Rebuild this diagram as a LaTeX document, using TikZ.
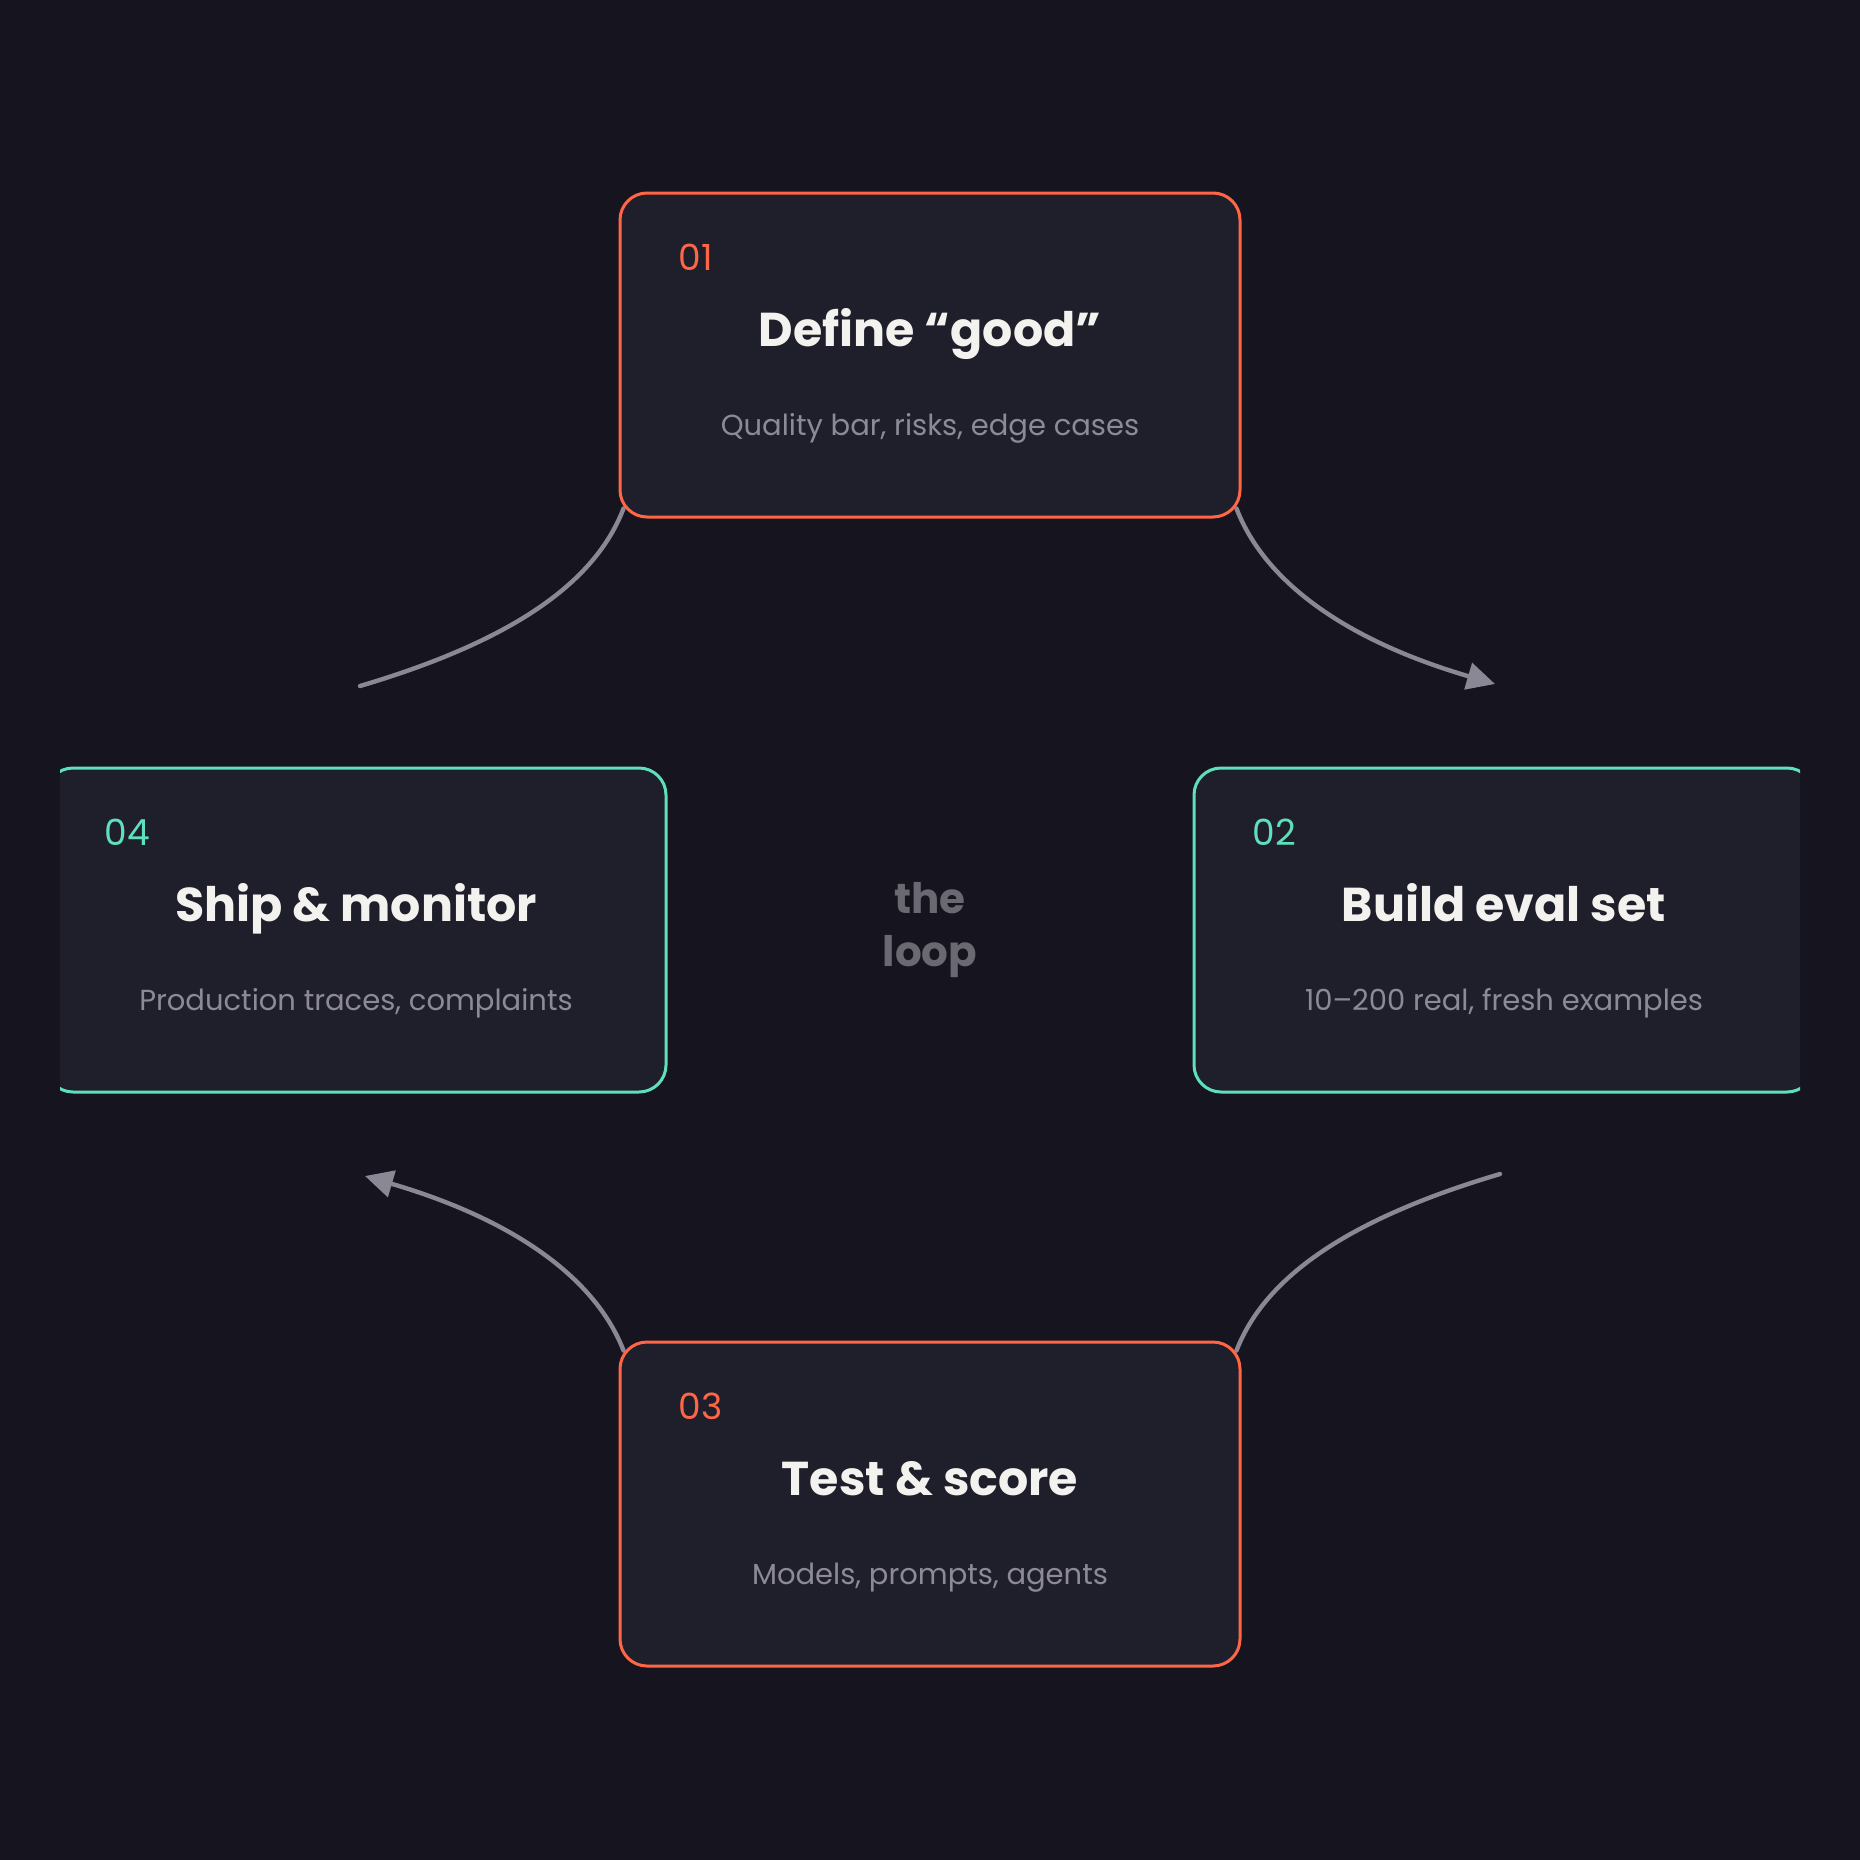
\documentclass[tikz,border=0pt]{standalone}
\usepackage{fontspec}
\setmainfont{Poppins}
\usetikzlibrary{arrows.meta}
\definecolor{bgc}{HTML}{16151F}
\definecolor{cardc}{HTML}{1F1F2B}
\definecolor{orangec}{HTML}{FF6645}
\definecolor{tealc}{HTML}{5EE0BC}
\definecolor{titlec}{HTML}{F4F2EE}
\definecolor{subc}{HTML}{8C8A96}
\definecolor{connc}{HTML}{8A8894}
\definecolor{loopc}{HTML}{6A6972}
\pgfdeclarelayer{bgl}
\pgfdeclarelayer{back}
\pgfsetlayers{bgl,back,main}
\tikzset{
  card/.style={draw=#1, line width=3pt, fill=cardc, rounded corners=27pt,
    minimum width=620pt, minimum height=324pt, inner sep=0pt},
  num/.style={text=#1, anchor=base west, font=\fontsize{36}{40}\selectfont, inner sep=0pt},
  ttl/.style={text=titlec, anchor=base, font=\bfseries\fontsize{47.5}{52}\selectfont, inner sep=0pt},
  sub/.style={text=subc, anchor=base, font=\fontsize{29}{32}\selectfont, inner sep=0pt},
  conn/.style={draw=connc, line width=4.4pt, line cap=round},
  tipped/.style={-{Triangle[length=28pt,width=27pt]}},
  looptxt/.style={text=loopc, font=\bfseries\fontsize{42}{53}\selectfont, anchor=base, inner sep=0pt}
}
\begin{document}
\begin{tikzpicture}[x=1pt,y=-1pt]
\begin{pgfonlayer}{bgl}
\fill[bgc] (0,0) rectangle (1860,1860);
\end{pgfonlayer}
\useasboundingbox (0,0) rectangle (1860,1860);
\begin{scope}
\clip (60,60) rectangle (1800,1800);
\node[card=orangec] (A) at (930,355) {};
\node[card=tealc] (B) at (1504,930) {};
\node[card=orangec] (C) at (930,1504) {};
\node[card=tealc] (D) at (356,930) {};
\end{scope}
% texts
\node[num=orangec] (An) at ([shift={(60,79)}]A.north west) {01};
\node[ttl] (At) at ([shift={(0,155)}]A.north) {Define “good”};
\node[sub] (As) at ([shift={(0,244)}]A.north) {Quality bar, risks, edge cases};
\node[num=tealc] (Bn) at ([shift={(60,79)}]B.north west) {02};
\node[ttl] (Bt) at ([shift={(0,155)}]B.north) {Build eval set};
\node[sub] (Bs) at ([shift={(0,244)}]B.north) {10–200 real, fresh examples};
\node[num=orangec] (Cn) at ([shift={(60,79)}]C.north west) {03};
\node[ttl] (Ct) at ([shift={(0,155)}]C.north) {Test \& score};
\node[sub] (Cs) at ([shift={(0,244)}]C.north) {Models, prompts, agents};
\node[num=tealc] (Dn) at ([shift={(60,79)}]D.north west) {04};
\node[ttl] (Dt) at ([shift={(0,155)}]D.north) {Ship \& monitor};
\node[sub] (Ds) at ([shift={(0,244)}]D.north) {Production traces, complaints};
\node[looptxt] (L1) at (930,913) {the};
\node[looptxt] (L2) at (930,966) {loop};
% connectors
\coordinate (ab) at (1495,684);
\coordinate (bc) at (1500,1174);
\coordinate (cd) at (365,1176);
\coordinate (da) at (360,686);
\begin{pgfonlayer}{back}
\draw[conn,tipped] ([shift={(-5,-10)}]A.south east) .. controls (1265,583) and (1348,641) .. (ab);
\draw[conn] (bc) .. controls (1348,1219) and (1265,1277) .. ([shift={(-5,10)}]C.north east);
\draw[conn,tipped] ([shift={(5,10)}]C.north west) .. controls (595,1277) and (512,1219) .. (cd);
\draw[conn] (da) .. controls (512,641) and (595,583) .. ([shift={(5,-10)}]A.south west);
\end{pgfonlayer}
\end{tikzpicture}
\end{document}
